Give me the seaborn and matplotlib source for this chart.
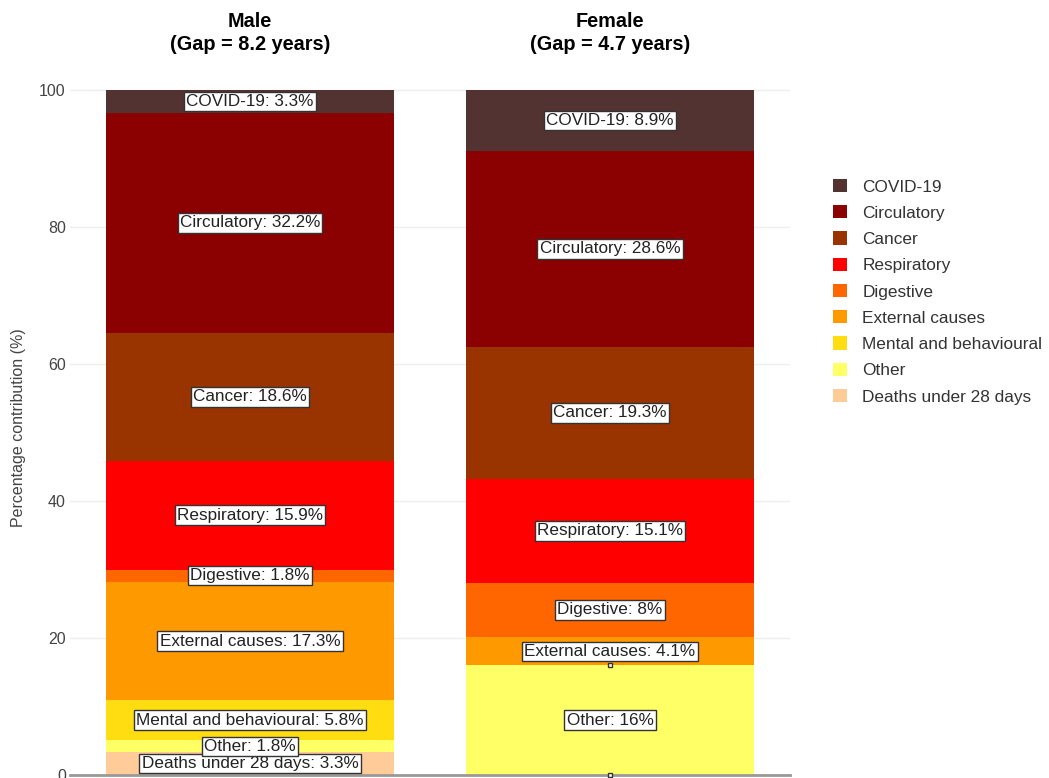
import matplotlib
matplotlib.use("Agg")
import matplotlib.pyplot as plt
import matplotlib.transforms as mtransforms
from matplotlib.patches import Patch
import numpy as np
import pandas as pd
import seaborn as sns

# Causes, listed from the top of each stack downwards
causes = ["COVID-19", "Circulatory", "Cancer", "Respiratory", "Digestive",
          "External causes", "Mental and behavioural", "Other",
          "Deaths under 28 days"]
colors = ["#533232", "#8b0000", "#993300", "#ff0000", "#ff6600",
          "#ff9900", "#ffdd11", "#ffff66", "#ffcc99"]

sexes = ["Male", "Female"]
gap_years = [8.2, 4.7]

# Percentage contribution of each cause to the life expectancy gap
male_pct = [3.3, 32.2, 18.6, 15.9, 1.8, 17.3, 5.8, 1.8, 3.3]
female_pct = [8.9, 28.6, 19.3, 15.1, 8.0, 4.1, 0.0, 16.0, 0.0]

df = pd.DataFrame({
    "sex": np.repeat(sexes, len(causes)),
    "cause": causes * len(sexes),
    "pct": male_pct + female_pct,
})

sns.set_style("white")
plt.rcParams["font.family"] = ["Liberation Sans", "DejaVu Sans"]

fig = plt.figure(figsize=(10.49, 7.78), dpi=100)
ax = fig.add_axes([70 / 1049, 3 / 778, 720 / 1049, 721 / 778])

sns.histplot(data=df, x="sex", weights="pct", hue="cause", hue_order=causes,
             palette=colors, multiple="stack", discrete=True, shrink=0.8,
             linewidth=0, alpha=1, legend=False, ax=ax)

ax.set_xlim(-0.5, 1.5)
ax.set_ylim(0, 105.26)
ax.set_yticks([0, 20, 40, 60, 80, 100])
ax.yaxis.grid(True, color="#eeeeee", linewidth=1)
ax.set_axisbelow(True)
ax.tick_params(axis="y", length=0, pad=3, labelsize=11.5, labelcolor="#444444")
ax.set_xticks([])
ax.set_xlabel("")
ax.set_ylabel("Percentage contribution (%)", fontsize=11.5, color="#444444")
ax.yaxis.set_label_coords(-44 / 720, (775 - 428) / 721)
for side in ["top", "right", "left"]:
    ax.spines[side].set_visible(False)
ax.spines["bottom"].set_color("#999999")
ax.spines["bottom"].set_linewidth(2)

# Segment labels placed at the middle of each stacked piece
for xi, vals in enumerate([male_pct, female_pct]):
    stack_vals = vals[::-1]
    stack_names = causes[::-1]
    base = 0.0
    for name, v in zip(stack_names, stack_vals):
        mid = base + v / 2
        if v > 0:
            ax.text(xi, mid, f"{name}: {v:g}%", ha="center", va="center",
                    fontsize=12.3, color="#222222", zorder=5,
                    bbox=dict(boxstyle="square,pad=0.13", facecolor="white",
                              edgecolor="#333333", linewidth=1))
        else:
            ax.plot(xi, mid, marker="s", markersize=3.5, markerfacecolor="white",
                    markeredgecolor="#333333", markeredgewidth=1, zorder=5,
                    clip_on=False)
        base += v

# Panel headings above each bar
trans = mtransforms.blended_transform_factory(ax.transData, ax.transAxes)
for xi, (sex, gap) in enumerate(zip(sexes, gap_years)):
    ax.text(xi, (775 - 33) / 721, f"{sex}\n(Gap = {gap} years)", transform=trans,
            ha="center", va="center", fontsize=14.3, fontweight="bold",
            color="black", linespacing=1.25)

handles = [Patch(facecolor=c, edgecolor="none") for c in colors]
fig.legend(handles, causes, loc="upper left",
           bbox_to_anchor=(833 / 1049, 1 - 179 / 778), frameon=False,
           fontsize=12.4, labelcolor="#333333", handlelength=0.8,
           handleheight=0.8, handletextpad=0.9, labelspacing=0.62,
           borderaxespad=0, borderpad=0)

fig.savefig("out.png", dpi=100)
